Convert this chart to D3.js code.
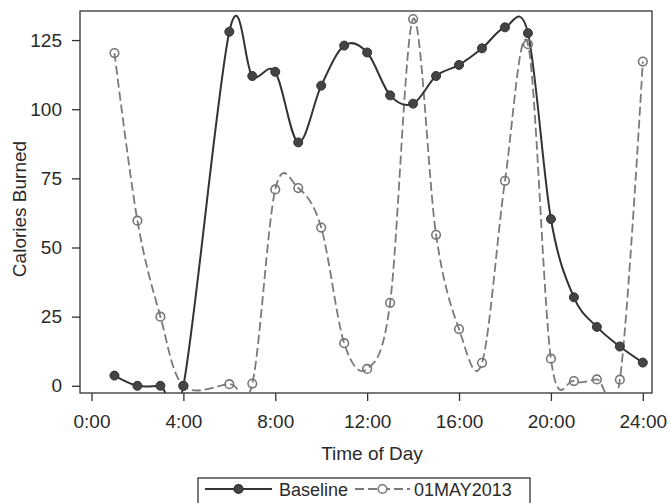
<!DOCTYPE html>
<html>
<head>
<meta charset="utf-8">
<script src="https://cdn.jsdelivr.net/npm/d3@7"></script>
<style>
  body { margin: 0; background: #fff; }
  svg text { font-family: "Liberation Sans", Arial, sans-serif; fill: #2a2a2a; }
</style>
</head>
<body>
<div id="container"></div>
<script>
// hour of day (no reading at 5:00 in either series)
const hours = [1, 2, 3, 4, 6, 7, 8, 9, 10, 11, 12, 13, 14, 15, 16, 17, 18, 19, 20, 21, 22, 23, 24];
const baseline = [3.7, 0, 0, 0, 128, 112, 113.5, 88, 108.5, 123, 120.5, 105, 102, 112, 116, 122, 129.6, 127.5, 60.3, 32, 21.3, 14.2, 8.4];
const may2013 = [120.3, 59.7, 25, 0, 0.6, 0.8, 71, 71.5, 57.2, 15.4, 6.1, 30, 132.6, 54.6, 20.5, 8.3, 74.1, 123.5, 9.8, 1.7, 2.3, 2.2, 117.2];
const xTicks = [0, 4, 8, 12, 16, 20, 24];
const yTicks = [0, 25, 50, 75, 100, 125];
const seriesNames = ["Baseline", "01MAY2013"];

document.addEventListener("DOMContentLoaded", () => {
  const w = 670;
  const h = 503;
  const left = 80, top = 11, plotW = 572, plotH = 382;
  const fontSize = 19;

  const svg = d3.
  select("#container").
  append("svg").
  attr("width", w).
  attr("height", h);

  const xScale = d3.
  scaleLinear().
  domain([-0.5, 24.4]).
  range([left, left + plotW]);

  const yScale = d3.
  scaleLinear().
  domain([-2.6, 135.5]).
  range([top + plotH, top]);

  // clip for the curves, they dip under the frame
  svg.append("clipPath").attr("id", "plot-clip").
  append("rect").
  attr("x", left).attr("y", top).
  attr("width", plotW).attr("height", plotH);

  const xAxis = d3.axisBottom(xScale).
  tickValues(xTicks).
  tickSize(8).
  tickPadding(14).
  tickFormat(d => d + ":00");

  const yAxis = d3.axisLeft(yScale).
  tickValues(yTicks).
  tickSize(8).
  tickPadding(10);

  const gx = svg.append("g").
  attr("transform", `translate(0, ${top + plotH})`).
  call(xAxis);

  const gy = svg.append("g").
  attr("transform", `translate(${left}, 0)`).
  call(yAxis);

  [gx, gy].forEach(g => {
    g.select(".domain").remove();
    g.selectAll("line").attr("stroke", "#333").attr("stroke-width", 1.3);
    g.selectAll("text").attr("font-size", fontSize).attr("fill", "#2a2a2a");
  });

  // frame
  svg.append("rect").
  attr("x", left).attr("y", top).
  attr("width", plotW).attr("height", plotH).
  attr("fill", "none").
  attr("stroke", "#333").
  attr("stroke-width", 1.3);

  const rows = hours.map((hr, i) => ({ hr, base: baseline[i], may: may2013[i] }));

  const plot = svg.append("g").attr("clip-path", "url(#plot-clip)");

  const lineFor = key => d3.line().
  x(d => xScale(d.hr)).
  y(d => yScale(d[key])).
  curve(d3.curveCardinal.tension(0));

  // 01MAY2013 (dashed, open circles)
  plot.append("path").
  datum(rows).
  attr("d", lineFor("may")).
  attr("fill", "none").
  attr("stroke", "#7a7a7a").
  attr("stroke-width", 1.8).
  attr("stroke-dasharray", "9,4");

  // Baseline (solid, filled circles)
  plot.append("path").
  datum(rows).
  attr("d", lineFor("base")).
  attr("fill", "none").
  attr("stroke", "#333").
  attr("stroke-width", 2);

  plot.selectAll(".may-pt").
  data(rows).
  enter().
  append("circle").
  attr("class", "may-pt").
  attr("cx", d => xScale(d.hr)).
  attr("cy", d => yScale(d.may)).
  attr("r", 4.3).
  attr("fill", "none").
  attr("stroke", "#777").
  attr("stroke-width", 1.6);

  plot.selectAll(".base-pt").
  data(rows).
  enter().
  append("circle").
  attr("class", "base-pt").
  attr("cx", d => xScale(d.hr)).
  attr("cy", d => yScale(d.base)).
  attr("r", 4.5).
  attr("fill", "#444").
  attr("stroke", "#333").
  attr("stroke-width", 1);

  // axis titles
  svg.append("text").
  attr("x", 372).
  attr("y", 460).
  attr("text-anchor", "middle").
  attr("font-size", fontSize).
  text("Time of Day");

  svg.append("text").
  attr("transform", "translate(26, 209) rotate(-90)").
  attr("text-anchor", "middle").
  attr("font-size", fontSize).
  text("Calories Burned");

  ////////////////////////
  //       Legend       //
  ////////////////////////
  const legend = svg.append("g");
  legend.append("rect").
  attr("x", 198).attr("y", 478).
  attr("width", 332).attr("height", 34).
  attr("fill", "none").
  attr("stroke", "#333").
  attr("stroke-width", 1.3);

  const legendItems = [
  { name: seriesNames[0], x0: 205, x1: 272, textX: 279, dash: null, color: "#333", fill: "#444" },
  { name: seriesNames[1], x0: 355, x1: 410, textX: 414, dash: "9,4", color: "#7a7a7a", fill: "none" }];

  legendItems.forEach(it => {
    legend.append("line").
    attr("x1", it.x0).attr("x2", it.x1).
    attr("y1", 489).attr("y2", 489).
    attr("stroke", it.color).
    attr("stroke-width", it.dash ? 1.8 : 2).
    attr("stroke-dasharray", it.dash);
    legend.append("circle").
    attr("cx", (it.x0 + it.x1) / 2).
    attr("cy", 489).
    attr("r", 4.3).
    attr("fill", it.fill === "none" ? "#fff" : it.fill).
    attr("stroke", it.color).
    attr("stroke-width", 1.6);
    legend.append("text").
    attr("x", it.textX).
    attr("y", 496).
    attr("font-size", 18).
    text(it.name);
  });
});
</script>
</body>
</html>
